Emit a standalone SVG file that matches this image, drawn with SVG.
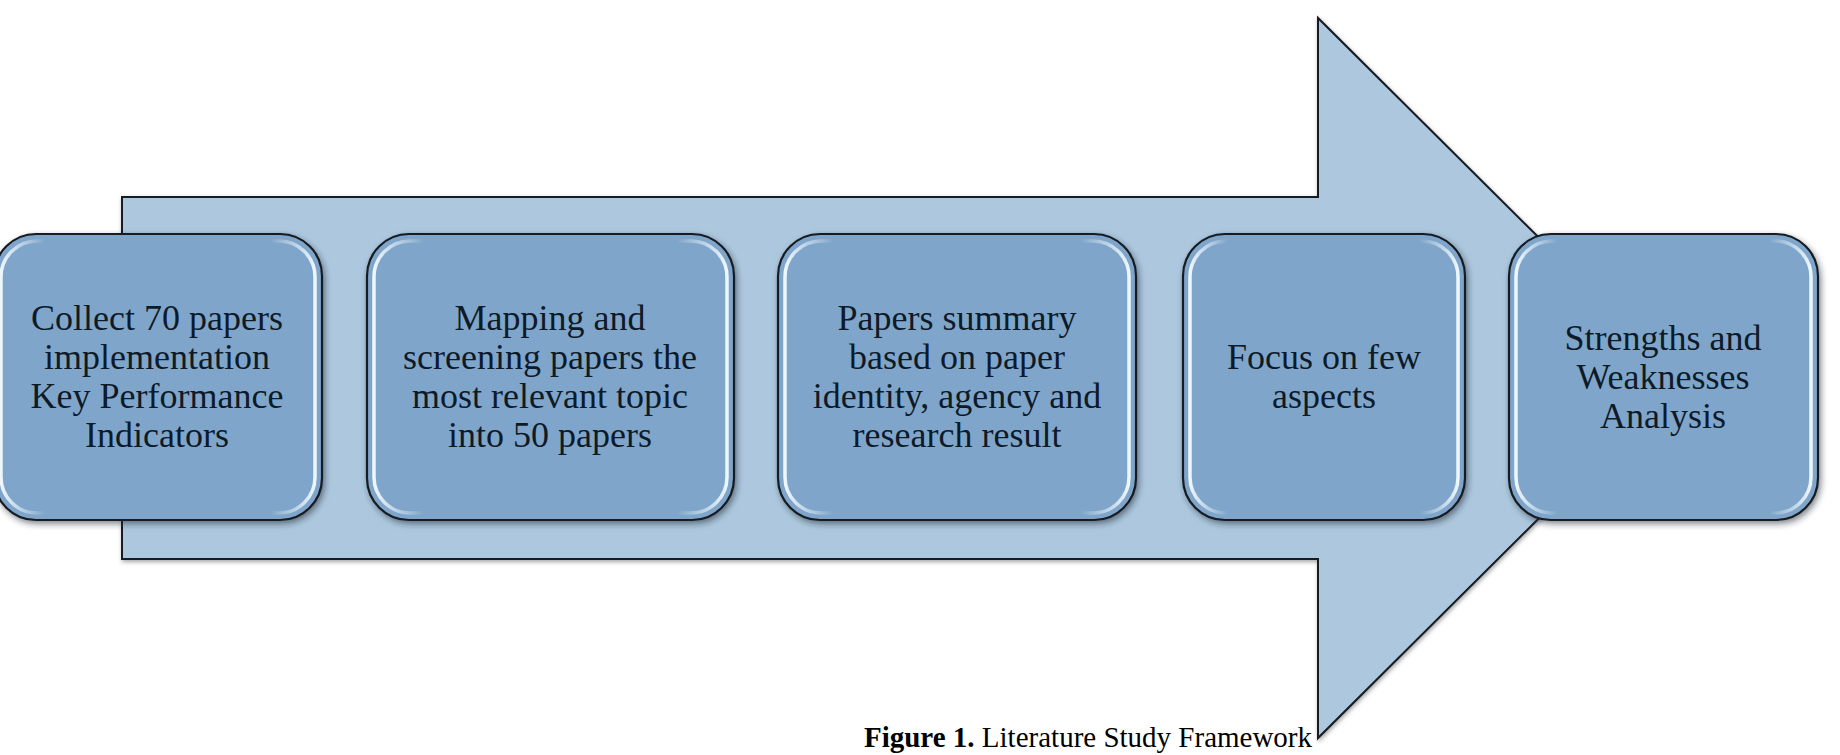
<svg xmlns="http://www.w3.org/2000/svg" width="1840" height="755" viewBox="0 0 1840 755">
<defs>
<style>
.box{fill:#7fa6ca;stroke:#151a20;stroke-width:2.2}
.hl{fill:none;stroke:url(#hlg);stroke-width:3.5}
.t{font-family:"Liberation Serif","Times New Roman",serif;font-size:36px;fill:#0e1a28;text-anchor:middle}
.cap{font-family:"Liberation Serif","Times New Roman",serif;font-size:29px;fill:#000;text-anchor:middle}
</style>
<linearGradient id="hlg" x1="0" y1="0" x2="1" y2="0">
<stop offset="0" stop-color="#f4fbff" stop-opacity="0.95"/>
<stop offset="0.07" stop-color="#e6f2fb" stop-opacity="0.55"/>
<stop offset="0.14" stop-color="#ffffff" stop-opacity="0"/>
<stop offset="0.86" stop-color="#ffffff" stop-opacity="0"/>
<stop offset="0.93" stop-color="#e6f2fb" stop-opacity="0.55"/>
<stop offset="1" stop-color="#f4fbff" stop-opacity="0.95"/>
</linearGradient>
<filter id="sh" x="-10%" y="-10%" width="125%" height="125%">
<feDropShadow dx="2" dy="3" stdDeviation="3" flood-color="#1e2a36" flood-opacity="0.55"/>
</filter>
<filter id="ash" x="-5%" y="-5%" width="110%" height="110%">
<feDropShadow dx="1" dy="2" stdDeviation="2" flood-color="#000" flood-opacity="0.35"/>
</filter>
</defs>
<rect width="1840" height="755" fill="#ffffff"/>
<g id="connectors">
<path id="arrow" d="M122,197 H1318 V18 L1680,378 L1318,738 V559 H122 Z" fill="#adc8de" stroke="#151a20" stroke-width="2" filter="url(#ash)"/>
</g>
<g id="node1">
<rect class="box" x="-6" y="234" width="328" height="286" rx="42" filter="url(#sh)"/>
<rect class="hl" x="1" y="241" width="314" height="272" rx="36"/>
<text class="t" x="157"><tspan x="157" y="330">Collect 70 papers</tspan><tspan x="157" y="369">implementation</tspan><tspan x="157" y="408">Key Performance</tspan><tspan x="157" y="447">Indicators</tspan></text>
</g>
<g id="node2">
<rect class="box" x="367" y="234" width="367" height="286" rx="42" filter="url(#sh)"/>
<rect class="hl" x="374" y="241" width="353" height="272" rx="36"/>
<text class="t" x="550"><tspan x="550" y="330">Mapping and</tspan><tspan x="550" y="369">screening papers the</tspan><tspan x="550" y="408">most relevant topic</tspan><tspan x="550" y="447">into 50 papers</tspan></text>
</g>
<g id="node3">
<rect class="box" x="778" y="234" width="358" height="286" rx="42" filter="url(#sh)"/>
<rect class="hl" x="785" y="241" width="344" height="272" rx="36"/>
<text class="t" x="957"><tspan x="957" y="330">Papers summary</tspan><tspan x="957" y="369">based on paper</tspan><tspan x="957" y="408">identity, agency and</tspan><tspan x="957" y="447">research result</tspan></text>
</g>
<g id="node4">
<rect class="box" x="1183" y="234" width="282" height="286" rx="42" filter="url(#sh)"/>
<rect class="hl" x="1190" y="241" width="268" height="272" rx="36"/>
<text class="t" x="1324"><tspan x="1324" y="369">Focus on few</tspan><tspan x="1324" y="408">aspects</tspan></text>
</g>
<g id="node5">
<rect class="box" x="1509" y="234" width="309" height="286" rx="42" filter="url(#sh)"/>
<rect class="hl" x="1516" y="241" width="295" height="272" rx="36"/>
<text class="t" x="1663"><tspan x="1663" y="350">Strengths and</tspan><tspan x="1663" y="389">Weaknesses</tspan><tspan x="1663" y="428">Analysis</tspan></text>
</g>
<g id="caption">
<text class="cap" x="1088" y="747"><tspan font-weight="bold">Figure 1.</tspan> Literature Study Framework</text>
</g>
</svg>
